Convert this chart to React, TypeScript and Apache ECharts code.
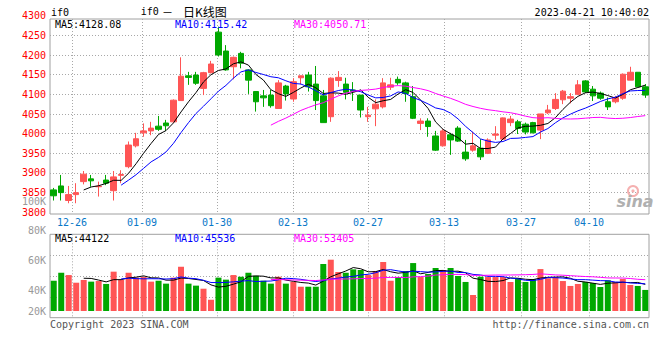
import React, { useEffect, useRef } from 'react';
import * as echarts from 'echarts';

const DATES = ['12-22','12-23','12-26','12-27','12-28','12-29','12-30','01-03','01-04','01-05','01-06','01-09','01-10','01-11','01-12','01-13','01-16','01-17','01-18','01-19','01-20','01-30','01-31','02-01','02-02','02-03','02-06','02-07','02-08','02-09','02-10','02-13','02-14','02-15','02-16','02-17','02-20','02-21','02-22','02-23','02-24','02-27','02-28','03-01','03-02','03-03','03-06','03-07','03-08','03-09','03-10','03-13','03-14','03-15','03-16','03-17','03-20','03-21','03-22','03-23','03-24','03-27','03-28','03-29','03-30','03-31','04-03','04-04','04-06','04-07','04-10','04-11','04-12','04-13','04-14','04-17','04-18','04-19','04-20','04-21'];

const OPEN = [3857,3867,3830,3845,3878,3885,3865,3882,3855,3894,3916,3969,4002,4007,4019,4027,4030,4084,4147,4149,4115,4155,4258,4210,4170,4204,4162,4107,4096,4098,4064,4121,4088,4142,4149,4126,4096,4043,4135,4126,4111,4098,4043,4063,4068,4118,4138,4129,4094,4026,4032,3994,3969,3997,4014,3953,3958,3963,3950,3996,3986,4028,4030,4024,4028,4009,4053,4064,4086,4090,4100,4134,4113,4103,4081,4081,4090,4136,4156,4119];
const CLOSE = [3842,3850,3845,3850,3897,3880,3866,3874,3890,3896,3971,3987,4007,4014,4011,4020,4085,4146,4143,4128,4155,4177,4200,4162,4194,4179,4136,4081,4091,4071,4129,4101,4132,4147,4119,4084,4028,4141,4143,4105,4107,4060,4047,4075,4129,4124,4129,4102,4039,4032,4018,3958,4007,3984,3981,3936,3969,3941,3984,3999,4040,4037,4013,4004,4002,4050,4060,4087,4108,4094,4124,4106,4096,4090,4068,4092,4151,4156,4119,4098];
const LOW = [3830,3830,3823,3823,3871,3865,3840,3869,3830,3874,3912,3965,3992,3996,4007,4007,4028,4084,4124,4124,4098,4153,4196,4160,4138,4166,4101,4056,4068,4066,4064,4084,4081,4125,4107,4060,4028,4030,4119,4087,4083,4041,4030,4019,4064,4111,4124,4081,4037,4009,3992,3956,3967,3946,3979,3931,3954,3933,3948,3984,3986,4019,3999,3998,4001,3986,4050,4060,4075,4077,4098,4103,4083,4086,4060,4077,4086,4136,4118,4091];
const HIGH = [3862,3895,3867,3874,3905,3895,3878,3895,3905,3907,3980,4002,4026,4030,4045,4035,4087,4194,4157,4157,4157,4185,4272,4225,4196,4208,4163,4107,4111,4111,4136,4124,4141,4147,4157,4172,4111,4143,4159,4142,4131,4098,4068,4087,4141,4142,4145,4132,4121,4039,4039,4007,4011,4002,4019,3984,4005,3986,3988,4019,4041,4045,4035,4028,4030,4050,4073,4103,4111,4103,4136,4136,4121,4107,4092,4096,4153,4170,4156,4126];
const VOLUME = [46500,51700,50200,45200,47000,45900,46300,44400,52400,47000,51700,48500,48900,45900,46500,44600,48500,55600,44600,43300,41300,34100,48500,47200,50200,49100,51700,49800,46500,44600,49100,44600,45900,42600,42600,42600,57400,60200,52200,51700,53900,53500,50200,52800,58700,46500,48900,52800,58000,48900,50900,54800,53500,54800,49600,45700,37200,49100,48900,48900,48900,45700,48100,45700,47600,54100,48100,48900,46300,43100,44400,45700,45000,42400,46800,45700,47600,43700,43100,40500];

const DATE_TICKS = ['12-26','01-09','01-30','02-13','02-27','03-13','03-27','04-10'];
const DATE_TICK_SLOTS = [22, 92, 167, 243, 318, 394, 471, 539];
const SLOT_COUNT = 600;

const PRICE_LEGEND = ['MA5:4128.08', 'MA10:4115.42', 'MA30:4050.71'];
const VOLUME_LEGEND = ['MA5:44122', 'MA10:45536', 'MA30:53405'];
const MA_PERIODS = [5, 10, 30];
const MA_COLORS = ['#000000', '#0000ff', '#ff00ff'];

const SYMBOL = 'if0';
const HEADING_DASH = '－';
const HEADING_B = '日K线图';
const TIMESTAMP = '2023-04-21 10:40:02';
const COPYRIGHT = 'Copyright 2023 SINA.COM';
const SITE = 'http://finance.sina.com.cn';

const UP = '#ff5555';
const DOWN = '#00a800';
const MONO = '"DejaVu Sans Mono", "Liberation Mono", monospace';

function movingAverage(arr: number[], n: number) {
  const out: (number | string)[] = [];
  for (let i = 0; i < arr.length; i++) {
    if (i < n - 1) { out.push('-'); continue; }
    let s = 0;
    for (let j = i - n + 1; j <= i; j++) s += arr[j];
    out.push(+(s / n).toFixed(2));
  }
  return out;
}

const SLOTS: string[] = Array.from({ length: SLOT_COUNT }, () => '');
DATE_TICK_SLOTS.forEach((s, k) => { SLOTS[s] = DATE_TICKS[k]; });
const isTick = (_i: number, v: string) => v !== '';

function txt(x: number, y: number, text: string, fill: string, opts: any = {}) {
  const align = opts.align || 'left';
  return {
    type: 'text', x, y, silent: true, z: 10,
    style: {
      text, fill,
      font: opts.font || `10px ${MONO}`,
      textAlign: align, align,
      textVerticalAlign: 'middle', verticalAlign: 'middle',
    },
  };
}

export default function App() {
  const ref = useRef<HTMLDivElement>(null);
  useEffect(() => {
    if (!ref.current) return;
    const chart = echarts.init(ref.current, null, { renderer: 'svg' });
    const L = 50, W = 599;
    const dotted = { type: [1, 2], color: '#a8a8a8', width: 1 };
    const candleData = OPEN.map((o, i) => [o, CLOSE[i], LOW[i], HIGH[i]]);
    const volData = VOLUME.map((v, i) => ({ value: v, itemStyle: { color: CLOSE[i] >= OPEN[i] ? UP : DOWN } }));

    const priceMA = MA_PERIODS.map((p, k) => ({
      type: 'line', data: movingAverage(CLOSE, p), xAxisIndex: 0, yAxisIndex: 0,
      symbol: 'none', showSymbol: false, silent: true,
      lineStyle: { width: 1, color: MA_COLORS[k] }, itemStyle: { color: MA_COLORS[k] }, z: 5,
    }));
    const volMA = MA_PERIODS.map((p, k) => ({
      type: 'line', data: movingAverage(VOLUME, p), xAxisIndex: 4, yAxisIndex: 3,
      symbol: 'none', showSymbol: false, silent: true,
      lineStyle: { width: 1, color: MA_COLORS[k] }, itemStyle: { color: MA_COLORS[k] }, z: 5,
    }));

    const legendX = [55, 175, 294];
    const plain = (v: number) => String(v);
    const kfmt = (v: number) => v + 'K';

    chart.setOption({
      animation: false,
      backgroundColor: '#ffffff',
      grid: [
        { left: L, width: W, top: 19, height: 195, show: true, borderColor: '#a0a0a0', borderWidth: 1, backgroundColor: 'transparent' },
        { left: L, width: W, top: 15.7, height: 196.6 },
        { left: L, width: W, top: 234.3, height: 83.4, show: true, borderColor: '#a0a0a0', borderWidth: 1, backgroundColor: 'transparent' },
        { left: L, width: W, top: 234.3, height: 76.7 },
        { left: L, width: W, top: 201, height: 89.7 },
        { left: L, width: W, top: 290.7, height: 20.3 },
      ],
      xAxis: [
        { type: 'category', gridIndex: 0, data: DATES, boundaryGap: true, show: false },
        {
          type: 'category', gridIndex: 0, data: SLOTS, boundaryGap: false, position: 'bottom',
          axisLine: { show: false }, axisTick: { show: false },
          axisLabel: { interval: isTick, color: '#0a78c8', fontFamily: MONO, fontSize: 10, margin: 3 },
          splitLine: { show: true, interval: isTick, lineStyle: dotted },
        },
        { type: 'value', gridIndex: 1, min: 0, max: 1, show: false },
        {
          type: 'category', gridIndex: 2, data: SLOTS, boundaryGap: false,
          axisLine: { show: false }, axisTick: { show: false }, axisLabel: { show: false },
          splitLine: { show: true, interval: isTick, lineStyle: dotted },
        },
        { type: 'category', gridIndex: 3, data: DATES, boundaryGap: true, show: false },
        { type: 'value', gridIndex: 4, min: 0, max: 1, show: false },
        { type: 'value', gridIndex: 5, min: 0, max: 1, show: false },
      ],
      yAxis: [
        { type: 'value', gridIndex: 0, min: 3795.7, max: 4291.4, show: false, scale: true },
        {
          type: 'value', gridIndex: 1, min: 3800, max: 4300, interval: 50,
          axisLine: { show: false }, axisTick: { show: false },
          axisLabel: { color: '#ff0000', fontFamily: MONO, fontSize: 10, margin: 4, formatter: plain },
          splitLine: { show: true, showMinLine: false, showMaxLine: false, lineStyle: dotted },
        },
        {
          type: 'value', gridIndex: 2, min: 0, max: 4, interval: 1,
          axisLine: { show: false }, axisTick: { show: false }, axisLabel: { show: false },
          splitLine: { show: true, showMinLine: false, showMaxLine: false, lineStyle: dotted },
        },
        { type: 'value', gridIndex: 3, min: 26780, max: 76740, show: false, scale: true },
        {
          type: 'value', gridIndex: 4, min: 40, max: 100, interval: 20,
          axisLine: { show: false }, axisTick: { show: false }, splitLine: { show: false },
          axisLabel: { color: '#999999', fontFamily: MONO, fontSize: 10, margin: 4, formatter: kfmt },
        },
        {
          type: 'value', gridIndex: 5, min: 20, max: 40, interval: 20,
          axisLine: { show: false }, axisTick: { show: false }, splitLine: { show: false },
          axisLabel: { color: '#999999', fontFamily: MONO, fontSize: 10, margin: 4, showMaxLabel: false, formatter: kfmt },
        },
      ],
      series: [
        {
          type: 'candlestick', xAxisIndex: 0, yAxisIndex: 0, data: candleData, barWidth: 6, silent: true,
          itemStyle: { color: UP, color0: DOWN, borderColor: UP, borderColor0: DOWN, borderWidth: 1 },
          z: 3,
        },
        ...priceMA,
        { type: 'bar', xAxisIndex: 4, yAxisIndex: 3, data: volData, barWidth: 6, silent: true, z: 3 },
        ...volMA,
      ],
      graphic: [
        txt(51, 12.3, SYMBOL, '#000'),
        txt(140.7, 11.8, SYMBOL, '#000'),
        txt(167.5, 11.8, HEADING_DASH, '#000', { font: '11px "Noto Sans CJK SC"', align: 'center' }),
        txt(183, 11, HEADING_B, '#000', { font: '12px "Noto Sans CJK SC"' }),
        txt(649, 12.2, TIMESTAMP, '#000', { align: 'right' }),
        ...PRICE_LEGEND.map((t, k) => txt(legendX[k], 24.5, t, MA_COLORS[k])),
        ...VOLUME_LEGEND.map((t, k) => txt(legendX[k], 238.5, t, MA_COLORS[k])),
        txt(50, 324, COPYRIGHT, '#555555'),
        txt(649, 324, SITE, '#555555', { align: 'right' }),
        { type: 'circle', shape: { cx: 633, cy: 191, r: 5 }, style: { fill: 'none', stroke: '#f5b0b0', lineWidth: 2 }, silent: true, z: 9 },
        { type: 'circle', shape: { cx: 633, cy: 191, r: 1.6 }, style: { fill: '#f5b0b0' }, silent: true, z: 9 },
        txt(635, 201.5, 'sina', '#b0b0b0', { font: 'italic bold 16px "DejaVu Sans"', align: 'center' }),
      ],
    });
    return () => chart.dispose();
  }, []);
  return <div ref={ref} style={{ position: 'absolute', left: 0, top: 0, width: 660, height: 360, background: '#fff' }} />;
}
